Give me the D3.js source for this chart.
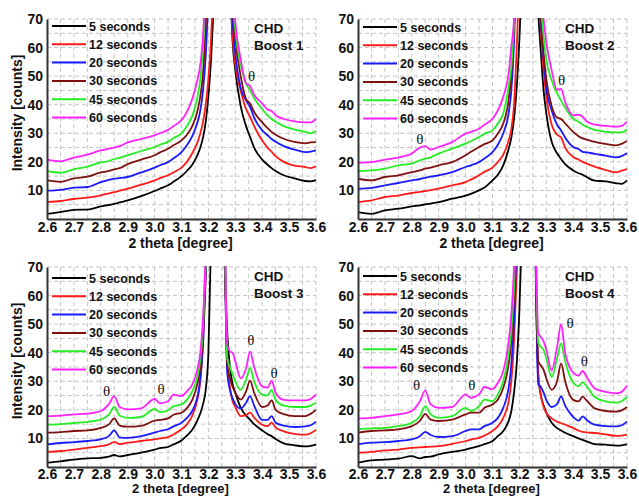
<!DOCTYPE html>
<html>
<head>
<meta charset="utf-8" />
<title>CHD Boost</title>
<style>
body { margin: 0; background: #fff; }
text { font-family: "Liberation Sans", Arial, sans-serif; fill: #111; }
.grid line { stroke: #c4c4c4; stroke-width: 1px; stroke-dasharray: 4,3; }
.axis .domain { stroke: #333; stroke-width: 2px; }
.axis text { font-size: 14px; font-weight: bold; }
.series { fill: none; stroke-width: 1.8px; stroke-linejoin: round; }
</style>
</head>
<body>
<svg id="chart" width="639" height="496"></svg>
<script src="https://cdn.jsdelivr.net/npm/d3@7/dist/d3.min.js"></script>
<script>
// x positions (2 theta) shared by every series; 3.24 is the off-scale main peak
var xGrid = [2.60, 2.65, 2.70, 2.75, 2.80, 2.83, 2.85, 2.87, 2.90, 2.95,
             3.00, 3.02, 3.05, 3.07, 3.10, 3.12, 3.14, 3.16, 3.17, 3.18,
             3.19, 3.20, 3.21, 3.22, 3.24,
             3.26, 3.27, 3.28, 3.29, 3.30, 3.32, 3.34, 3.355, 3.37, 3.40,
             3.42, 3.435, 3.45, 3.48, 3.52, 3.56, 3.58, 3.60];

// Boost 1
var b1_5s  = [1.8, 2.4, 3.2, 3.3, 4.4, 4.9, 5.3, 5.8, 6.5, 8.0, 9.8, 10.6, 11.8, 13.0, 15.0, 16.8, 19.0, 22.5, 25.0, 28.5, 34, 43, 56, 75, null,
              null, null, 85, 62, 52, 39.5, 32.5, 28.7, 25, 20.8, 19, 17.8, 16.8, 15.3, 14.2, 13.3, 13.2, 13.6];
var b1_12s = [5.9, 6.3, 7.0, 7.5, 8.3, 9.0, 9.4, 9.9, 10.6, 12.0, 13.5, 14.3, 15.3, 16.3, 18.0, 20.0, 23.0, 27, 30, 34, 40, 49, 63, 85, null,
              null, null, 88, 64, 54, 45, 38.5, 35.7, 32.5, 27.5, 25, 23.5, 22, 20, 18.7, 18.2, 17.8, 18.4];
var b1_20s = [9.9, 10.2, 11.0, 11.2, 12.9, 13.7, 14.1, 14.3, 14.7, 16.3, 18.0, 18.8, 19.9, 21.2, 23.4, 25.8, 29, 34, 38, 45, 57, 78, null, null, null,
              null, null, 95, 70, 58, 46, 41.5, 39.2, 35.5, 31, 29.3, 28, 27, 25.5, 24.3, 23.4, 23.6, 24.0];
var b1_30s = [13.5, 13.0, 14.2, 14.8, 16.3, 16.8, 17.4, 17.8, 19.2, 20.8, 22.3, 23.3, 24.6, 25.8, 27.5, 29.5, 32.5, 38, 43, 51, 68, 95, null, null, null,
              null, null, 100, 74, 63, 50, 42, 40.4, 37.5, 33.8, 31.8, 30.5, 29.5, 28.1, 27.0, 26.5, 26.8, 26.9];
var b1_45s = [16.8, 16.2, 17.4, 18.3, 19.8, 20.3, 21.0, 21.4, 22.3, 23.8, 25.2, 26.0, 27.0, 28.3, 30.0, 32.5, 36, 43, 49, 60, 80, null, null, null, null,
              null, null, 105, 78, 66, 54, 47.4, 45, 42.3, 38.5, 36.3, 35, 34, 32.5, 31.3, 30.5, 30.0, 30.8];
var b1_60s = [20.8, 20.2, 21.5, 22.5, 24.0, 24.6, 25.0, 25.5, 26.8, 28.0, 29.3, 30.0, 31.2, 32.5, 34.6, 37.5, 42, 49, 54, 64, 85, null, null, null, null,
              null, null, 110, 82, 69, 56, 47.5, 46.5, 43.5, 40.5, 38.3, 37.8, 36.3, 35, 34.2, 33.8, 33.8, 35];

// Boost 2
var b2_5s  = [2.4, 1.8, 3.0, 3.6, 4.4, 4.8, 5.1, 5.4, 5.9, 7.1, 8.2, 8.8, 10.0, 11.0, 13.5, 15.5, 18.8, 24.5, 28.5, 35, 46, 63, 85, null, null,
              90, 72, 58, 45, 37, 27, 23, 21, 19.2, 17, 16, 15.5, 14.7, 13.4, 13.2, 12.5, 12.3, 13.5];
var b2_12s = [5.9, 6.5, 7.7, 8.2, 9.1, 9.5, 9.8, 10.1, 10.6, 11.8, 12.9, 13.8, 15.3, 16.5, 18.0, 20.0, 22.5, 27.5, 31.5, 40, 60, 85, null, null, null,
              95, 78, 66, 52, 43, 33, 29.5, 28.5, 25, 21.7, 20.8, 20, 19.4, 18.3, 17.2, 16.3, 16.9, 17.5];
var b2_20s = [10.6, 10.9, 11.8, 12.6, 13.5, 14.0, 14.4, 14.8, 15.3, 16.4, 18.2, 18.8, 19.9, 21.2, 23.4, 26, 30, 37, 45, 62, 90, null, null, null, null,
              100, 82, 68, 56, 46, 38, 33, 31, 28.5, 25.2, 24.5, 23.5, 23.3, 22.8, 22.2, 21.6, 22.0, 23.0];
var b2_30s = [14.1, 13.5, 14.7, 15.3, 16.4, 17.0, 17.6, 18.0, 18.8, 19.9, 22.3, 23.5, 25.2, 26.2, 27.5, 29.9, 33.4, 41.6, 50.9, 67, 95, null, null, null, null,
              105, 86, 70, 58, 49, 39.5, 35.5, 35, 33.5, 30.5, 29, 28.2, 27.8, 27, 26.3, 25.8, 26.3, 27.3];
var b2_45s = [16.8, 17.0, 17.6, 18.8, 19.4, 20.5, 21.1, 21.6, 22.9, 24.6, 26.4, 27.2, 28.7, 29.8, 31.0, 33.4, 36.9, 46.3, 53.3, 68.5, 95, null, null, null, null,
              110, 90, 75, 64, 56, 48.5, 44, 41.5, 39, 35.1, 34, 33, 32.3, 31.2, 30.6, 30.3, 30.3, 31.3];
var b2_60s = [19.7, 19.9, 20.8, 21.5, 22.9, 25.0, 25.5, 24.3, 25.2, 26.9, 29.9, 30.5, 31.6, 33.0, 35.1, 38, 42.8, 50.9, 60.3, 69.6, 95, null, null, null, null,
              120, 100, 82, 70, 62, 52, 45.3, 45.5, 41, 36.3, 36.5, 35.8, 34.2, 33, 32.6, 32.3, 32.6, 34];

// Boost 3
var b3_5s  = [1.5, 2.0, 2.6, 3.0, 3.2, 3.6, 4.2, 3.7, 4.2, 5.0, 6.1, 6.6, 7.0, 7.9, 9.3, 11.0, 13.0, 16.5, 18.8, 22, 27, 40, 80, null, null,
              72, 47, 35, 29, 26, 20.8, 18, 16.5, 15, 12.8, 11.5, 10.8, 9.8, 8.3, 7.6, 7.2, 7.4, 7.8];
var b3_12s = [5.3, 5.6, 6.1, 6.7, 7.3, 7.9, 8.8, 8.0, 8.5, 9.1, 9.7, 10.0, 10.5, 11.4, 13.2, 14.9, 18.0, 24, 30, 44, 66, 95, null, null, null,
              80, 36, 28, 23, 21, 17.8, 18.2, 19.0, 17.3, 14.8, 14.3, 15.5, 13.8, 12.5, 11.6, 11.3, 11.8, 13];
var b3_20s = [7.9, 8.4, 8.7, 9.1, 9.7, 10.8, 12.8, 10.4, 10.2, 10.8, 12.0, 12.6, 13.2, 14.2, 15.5, 17.2, 19.6, 25, 31, 43, 68, 95, null, null, null,
              85, 33, 27, 24, 22, 20.5, 22.5, 24.8, 21.5, 16.5, 16.5, 17.8, 15.5, 14.5, 14, 14.2, 14.6, 15.9];
var b3_30s = [12.0, 12.2, 12.6, 12.8, 13.7, 14.9, 17.0, 14.5, 14.1, 14.4, 16.2, 16.5, 17.0, 18.3, 19.0, 20.6, 23.5, 29.5, 35, 46, 71, null, null, null, null,
              90, 36, 31, 28, 26, 23.6, 26.5, 30.2, 26, 21, 21.5, 23.3, 20, 18.5, 17.8, 17.8, 18.6, 20];
var b3_45s = [14.8, 15.0, 15.4, 15.8, 16.6, 18.3, 21.0, 18.0, 17.2, 17.5, 20.3, 19.2, 19.8, 21.3, 21.9, 23.5, 26.5, 32, 37.5, 49, 72, null, null, null, null,
              95, 38, 35, 32.5, 30, 27, 30.5, 34.7, 30, 25.3, 25, 27, 23.5, 21.5, 21, 21, 21.5, 22.4];
var b3_60s = [17.8, 18.0, 18.4, 18.7, 19.6, 22.0, 24.8, 21.0, 20.2, 20.5, 23.8, 22.3, 23.0, 25.3, 24.8, 26.5, 28.8, 34.5, 40, 52, 75, null, null, null, null,
              100, 43, 40.5, 40, 37, 31, 34.5, 40.4, 35, 28.2, 27.8, 30.2, 26, 23.5, 23.3, 23.3, 23.8, 25.3];

// Boost 4
var b4_5s  = [1.5, 2.3, 2.6, 2.9, 3.8, 3.0, 3.5, 3.6, 4.4, 5.3, 6.1, 6.6, 7.3, 8.0, 9.1, 10.8, 12.6, 16.1, 19.6, 26, 36, 55, 85, null, null,
              72, 32, 25, 21.5, 19, 15.5, 13.6, 12.8, 12, 10.8, 10, 9.5, 9, 8, 7.8, 7.5, 7.6, 7.9];
var b4_12s = [5.0, 5.3, 5.8, 6.1, 6.7, 6.9, 7.0, 7.1, 7.3, 8.1, 9.1, 9.6, 10.2, 11.0, 12.6, 14.3, 17.2, 23, 30, 44, 67, 95, null, null, null,
              78, 33, 25, 21, 19, 17, 15.9, 15.3, 14.8, 13.7, 12.7, 12.3, 12.1, 11.9, 11.4, 10.9, 11.0, 11.3];
var b4_20s = [7.9, 8.5, 8.7, 9.1, 9.7, 10.8, 12.3, 11.2, 10.5, 10.8, 12.6, 13.2, 13.2, 14.3, 15.5, 17.2, 20.7, 27.7, 35.9, 51, 80, null, null, null, null,
              75, 29, 28, 26, 23.5, 21, 22, 24.7, 21.5, 17.5, 16.2, 17.7, 16.5, 14.8, 14.3, 14.2, 14.6, 15.9];
var b4_30s = [12.0, 12.6, 12.8, 13.2, 14.3, 16.1, 18.6, 16.6, 16.1, 16.6, 18.4, 19.0, 19.0, 20.7, 21.9, 23.6, 27.7, 35.9, 44, 59.2, 85, null, null, null, null,
              80, 37, 35.5, 34, 31, 27, 30, 36.3, 30, 23.5, 23, 24.6, 23.3, 20.5, 19.6, 19.4, 19.8, 21];
var b4_45s = [13.2, 13.5, 13.7, 14.3, 15.5, 17.8, 21.3, 18.4, 17.2, 17.8, 20.7, 19.6, 21.3, 23.6, 23.0, 25.4, 30.0, 39.4, 47.6, 62.7, 90, null, null, null, null,
              85, 43.5, 42, 41, 38, 31.5, 38, 43.3, 37, 29.5, 28.3, 29.6, 28.3, 24.5, 23, 22.5, 23, 24.5];
var b4_60s = [17.0, 17.2, 17.8, 18.4, 19.6, 23.0, 26.8, 21.9, 20.7, 21.0, 25.4, 24.2, 25.4, 28.0, 27.2, 29.5, 33.6, 44, 53.4, 69.8, 95, null, null, null, null,
              90, 47, 45.5, 44, 41, 33.8, 42, 50, 40, 33, 32, 33.6, 31.5, 27.5, 26.3, 25.8, 26.3, 28.5];

var seriesNames = ["5 seconds", "12 seconds", "20 seconds", "30 seconds", "45 seconds", "60 seconds"];
var seriesColors = ["#000000", "#ff1a1a", "#1a1aff", "#7f1010", "#22ee22", "#ff22ff"];
var panelTitles = ["Boost 1", "Boost 2", "Boost 3", "Boost 4"];
var xTicks = [2.6, 2.7, 2.8, 2.9, 3.0, 3.1, 3.2, 3.3, 3.4, 3.5, 3.6];
var yTicks = [10, 20, 30, 40, 50, 60, 70];
// theta markers [2theta, intensity] per panel
var theta1 = [[3.361, 50]];
var theta2 = [[2.83, 28.1], [3.357, 48.6]];
var theta3 = [[2.822, 26.8], [3.024, 27.4], [3.358, 44.6], [3.444, 33]];
var theta4 = [[2.818, 28.7], [3.023, 28.9], [3.388, 50.5], [3.441, 37.3]];

var panelData = [
    [b1_5s, b1_12s, b1_20s, b1_30s, b1_45s, b1_60s],
    [b2_5s, b2_12s, b2_20s, b2_30s, b2_45s, b2_60s],
    [b3_5s, b3_12s, b3_20s, b3_30s, b3_45s, b3_60s],
    [b4_5s, b4_12s, b4_20s, b4_30s, b4_45s, b4_60s]
];
var thetaData = [theta1, theta2, theta3, theta4];

var pw = 269, ph = 200;
var panelPos = [[47, 19], [358, 19], [47, 267], [358, 267]];
var legendTop = [7, 8, 11, 9];

var svg = d3.select("#chart");

var x = d3.scaleLinear().domain([2.6, 3.6]).range([0, pw]);
var y = d3.scaleLinear().domain([0, 70]).range([ph, 0]);

var line = d3.line()
    .defined(function(d) { return d[1] != null; })
    .x(function(d) { return x(d[0]); })
    .y(function(d) { return y(d[1]); })
    .curve(d3.curveMonotoneX);

panelData.forEach(function(series, p) {
    var bottomRow = p >= 2;
    var g = svg.append("g")
        .attr("transform", "translate(" + panelPos[p][0] + "," + panelPos[p][1] + ")");

    g.append("clipPath").attr("id", "clip" + p)
        .append("rect").attr("x", 0).attr("y", -1).attr("width", pw + 2).attr("height", ph + 1);

    // dashed grid
    var grid = g.append("g").attr("class", "grid");
    grid.selectAll(".gx").data(d3.range(1, 21).map(function(i) { return 2.6 + i * 0.05; }))
        .enter().append("line")
        .attr("x1", function(d) { return x(d); }).attr("x2", function(d) { return x(d); })
        .attr("y1", 0).attr("y2", ph);
    grid.selectAll(".gy").data(d3.range(5, 71, 5))
        .enter().append("line")
        .attr("x1", 0).attr("x2", pw)
        .attr("y1", function(d) { return y(d); }).attr("y2", function(d) { return y(d); });

    // curves
    g.append("g").attr("clip-path", "url(#clip" + p + ")")
        .selectAll("path").data(series)
        .enter().append("path")
        .attr("class", "series")
        .attr("stroke", function(d, i) { return seriesColors[i]; })
        .attr("d", function(d) { return line(xGrid.map(function(xv, k) { return [xv, d[k]]; })); });

    // axes
    g.append("g").attr("class", "axis")
        .attr("transform", "translate(0," + ph + ")")
        .call(d3.axisBottom(x).tickValues(xTicks).tickSize(0).tickPadding(bottomRow ? 2.5 : 3.5).tickFormat(d3.format(".1f")));
    g.append("g").attr("class", "axis")
        .call(d3.axisLeft(y).tickValues(yTicks).tickSize(0).tickPadding(4).tickFormat(d3.format("d")));

    // legend
    var lg = g.append("g").attr("transform", "translate(0," + legendTop[p] + ")");
    seriesNames.forEach(function(name, i) {
        lg.append("line")
            .attr("x1", 5).attr("x2", 39)
            .attr("y1", i * 18.3).attr("y2", i * 18.3)
            .attr("stroke", seriesColors[i]).attr("stroke-width", 2);
        lg.append("text")
            .attr("x", 42).attr("y", i * 18.3).attr("dy", "0.36em")
            .style("font-size", "12.5px").style("font-weight", "bold")
            .text(name);
    });

    // panel title
    g.append("text").attr("x", 207).attr("y", 14)
        .style("font-size", "13.5px").style("font-weight", "bold").text("CHD");
    g.append("text").attr("x", 207).attr("y", 31)
        .style("font-size", "13.5px").style("font-weight", "bold").text(panelTitles[p]);

    // theta markers
    g.selectAll(".theta").data(thetaData[p])
        .enter().append("text")
        .attr("x", function(d) { return x(d[0]); })
        .attr("y", function(d) { return y(d[1]); })
        .attr("dy", "0.35em")
        .attr("text-anchor", "middle")
        .style("font-family", "'Liberation Serif', 'Times New Roman', serif")
        .style("font-size", "15px")
        .text("θ");

    // axis titles (bottom row slightly smaller so it fits the page)
    g.append("text")
        .attr("x", pw / 2 - 1).attr("y", ph + (bottomRow ? 26 : 29))
        .attr("text-anchor", "middle")
        .style("font-size", bottomRow ? "13px" : "14px").style("font-weight", "bold")
        .text("2 theta [degree]");
    if (p % 2 === 0) {
        g.append("text")
            .attr("transform", "translate(" + (17 - panelPos[p][0]) + "," + (ph / 2 - 6) + ") rotate(-90)")
            .attr("text-anchor", "middle").attr("dy", "0.35em")
            .style("font-size", "14px").style("font-weight", "bold")
            .text("Intensity [counts]");
    }
});
</script>
</body>
</html>
